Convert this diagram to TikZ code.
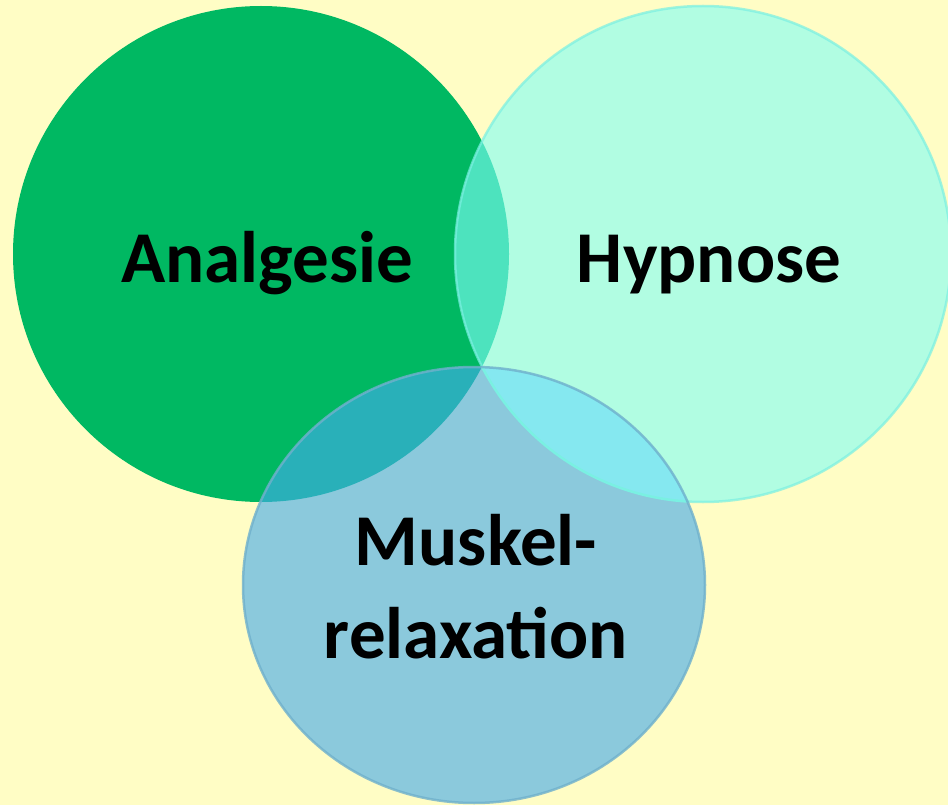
\documentclass[tikz,border=0pt]{standalone}
\usepackage{fontspec}
\setmainfont{Carlito}

\definecolor{bgyellow}{HTML}{FFFDC5}
\definecolor{analgreen}{HTML}{00B862}
\definecolor{hypmint}{HTML}{B1FDE2}
\definecolor{muskblue}{HTML}{8BC9DC}
\definecolor{greenmint}{HTML}{4DE3BE}
\definecolor{greenblue}{HTML}{29B0B9}
\definecolor{mintblue}{HTML}{85E8F0}
\definecolor{mintline}{HTML}{7AF0E2}
\definecolor{blueline}{HTML}{6FB0CC}

\begin{document}
\begin{tikzpicture}[
		x = 1pt, y = -1pt, % pixel units, y downwards
		setlabel/.style = {font=\fontsize{73}{93}\selectfont\bfseries, text=black, inner sep=0pt, align=center, anchor=base},
		ringA/.style = {radius=248pt},
		ringH/.style = {radius=248pt},
		ringM/.style = {x radius=231pt, y radius=218pt}
		]
		
		\clip (0,0) rectangle (948,805);
		\fill[bgyellow] (0,0) rectangle (948,805);
		
		\coordinate (ca) at (261,254);
		\coordinate (ch) at (703,254);
		\coordinate (cm) at (474,585);
		
		% the three sets
		\fill[analgreen] (ca) circle [ringA];
		\fill[hypmint] (ch) circle [ringH];
		\begin{scope}
			\clip (ca) circle [ringA];
			\fill[greenmint] (ch) circle [ringH];
		\end{scope}
		\draw[mintline, line width=2.5pt, draw opacity=0.7] (ch) circle [ringH];
		
		\fill[muskblue] (cm) ellipse [ringM];
		\begin{scope}
			\clip (cm) ellipse [ringM];
			\fill[greenblue] (ca) circle [ringA];
			\fill[mintblue] (ch) circle [ringH];
			\draw[mintline, line width=2.5pt] (ch) circle [ringH];
		\end{scope}
		\draw[blueline, line width=2.5pt, draw opacity=0.8] (cm) ellipse [ringM];
		
		% labels (base = baseline of the last line)
		\node[setlabel] (analgesie) at (267,282) {Analgesie};
		\node[setlabel] (hypnose) at (709,282) {Hypnose};
		\node[setlabel] (muskel) at (476,658) {Muskel-\\relaxation};
		
	\end{tikzpicture}
\end{document}
